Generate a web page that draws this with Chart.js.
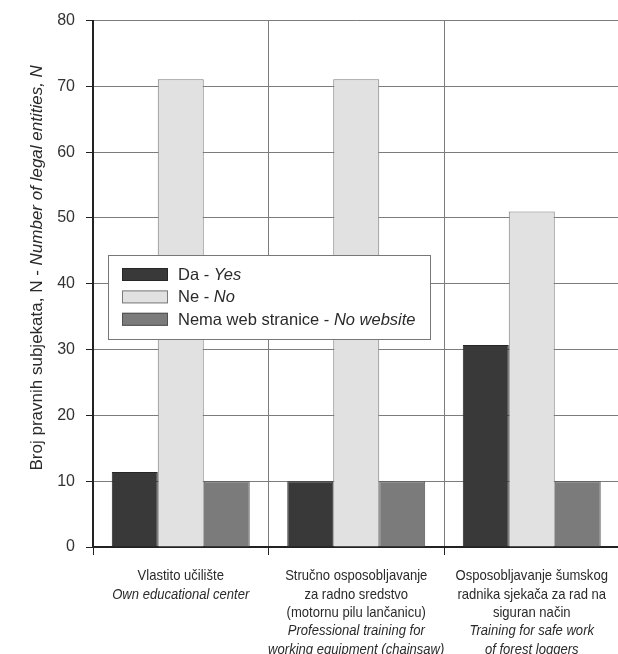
<!DOCTYPE html>
<html>
<head>
<meta charset="utf-8">
<script src="https://cdn.jsdelivr.net/npm/chart.js@4.4.1/dist/chart.umd.min.js"></script>
<style>
html,body{margin:0;padding:0;background:#fff;overflow:hidden;}
canvas{display:block;}
</style>
</head>
<body>
<canvas id="c" width="621" height="654" style="width:621px;height:654px"></canvas>
<script>
// ---- data ----
const categories = ["Vlastito učilište", "Stručno osposobljavanje", "Osposobljavanje šumskog"];
const catLinesHr = [
  ["Vlastito učilište"],
  ["Stručno osposobljavanje", "za radno sredstvo", "(motornu pilu lančanicu)"],
  ["Osposobljavanje šumskog", "radnika sjekača za rad na", "siguran način"]
];
const catLinesEn = [
  ["Own educational center"],
  ["Professional training for", "working equipment (chainsaw)"],
  ["Training for safe work", "of forest loggers"]
];
const seriesHr = ["Da - ", "Ne - ", "Nema web stranice - "];
const seriesEn = ["Yes", "No", "No website"];
const valuesDa = [11.4, 10, 30.7];
const valuesNe = [71.1, 71.1, 51.0];
const valuesNema = [10, 10, 10];
const yTicks = [0, 10, 20, 30, 40, 50, 60, 70, 80];
const yTitleHr = "Broj pravnih subjekata, N - ";
const yTitleEn = "Number of legal entities, N";

const FONT = "'Liberation Sans', Arial, sans-serif";
const fills = ["#393939", "#e1e1e1", "#7b7b7b"];
const borders = ["#262626", "#7a7a7a", "#505050"];

function drawMixed(ctx, x, y, parts, size, align) {
  let widths = parts.map(p => { ctx.font = (p[1] ? "italic " : "") + size + "px " + FONT; return ctx.measureText(p[0]).width; });
  let total = widths.reduce((a, b) => a + b, 0);
  let cx = align === "center" ? x - total / 2 : x;
  parts.forEach((p, i) => {
    ctx.font = (p[1] ? "italic " : "") + size + "px " + FONT;
    ctx.textAlign = "left";
    ctx.fillText(p[0], cx, y);
    cx += widths[i];
  });
}

const decor = {
  id: "decor",
  afterDraw(chart) {
    const ctx = chart.ctx;
    const xs = chart.scales.x;
    const ys = chart.scales.y;
    ctx.save();
    ctx.fillStyle = "#2a2a2a";
    ctx.textBaseline = "middle";
    categories.forEach((c, i) => {
      const cx = xs.getPixelForValue(i);
      const lines = catLinesHr[i].map(t => [t, false]).concat(catLinesEn[i].map(t => [t, true]));
      lines.forEach((ln, j) => {
        const y = ys.bottom + 29 + j * 18.4;
        ctx.save();
        ctx.translate(cx, y);
        ctx.scale(0.87, 1);
        ctx.font = (ln[1] ? "italic " : "") + "15px " + FONT;
        ctx.textAlign = "center";
        ctx.fillText(ln[0], 0, 0);
        ctx.restore();
      });
    });
    ctx.save();
    ctx.translate(37, (ys.top + ys.bottom) / 2 - 16);
    ctx.rotate(-Math.PI / 2);
    drawMixed(ctx, 0, 0, [[yTitleHr, false], [yTitleEn, true]], 17, "center");
    ctx.restore();
    const lx = 108, ly = 255, lw = 322, lh = 84;
    ctx.fillStyle = "#fff";
    ctx.fillRect(lx, ly, lw, lh);
    ctx.strokeStyle = "#777";
    ctx.lineWidth = 1;
    ctx.strokeRect(lx + 0.5, ly + 0.5, lw, lh);
    chart.data.datasets.forEach((ds, i) => {
      const cy = 274.5 + i * 22.4;
      ctx.fillStyle = ds.backgroundColor;
      ctx.fillRect(122, cy - 6.5, 46, 13);
      ctx.strokeStyle = ds.borderColor;
      ctx.strokeRect(122.5, cy - 6, 45, 12);
      ctx.fillStyle = "#2a2a2a";
      drawMixed(ctx, 178, cy + 1, [[seriesHr[i], false], [seriesEn[i], true]], 16.5, "left");
    });
    ctx.restore();
  }
};

const mk = (i, data) => ({
  label: seriesHr[i] + seriesEn[i],
  data: data,
  backgroundColor: fills[i],
  borderColor: borders[i],
  borderWidth: 1,
  categoryPercentage: 0.786,
  barPercentage: 1.0
});

new Chart(document.getElementById("c"), {
  type: "bar",
  data: {
    labels: categories,
    datasets: [mk(0, valuesDa), mk(1, valuesNe), mk(2, valuesNema)]
  },
  options: {
    responsive: false,
    animation: false,
    devicePixelRatio: 1,
    layout: { padding: { top: 20, right: 1.5, left: 0, bottom: 0 } },
    plugins: { legend: { display: false }, tooltip: { enabled: false }, title: { display: false } },
    scales: {
      x: {
        afterFit: (s) => { s.height = 107; },
        grid: { offset: true, color: "#7c7c7c", lineWidth: 1, tickColor: "#222", tickLength: 8, drawTicks: true },
        border: { color: "#222", width: 2 },
        ticks: { callback: () => "", font: { size: 1 } }
      },
      y: {
        min: 0, max: 80,
        afterFit: (s) => { s.width = 93; },
        afterBuildTicks: (s) => { s.ticks = yTicks.map(v => ({ value: v })); },
        grid: { color: "#7c7c7c", lineWidth: 1, tickColor: "#222", tickLength: 7 },
        border: { color: "#222", width: 2 },
        ticks: { font: { size: 16, family: FONT }, color: "#333", padding: 11 }
      }
    }
  },
  plugins: [decor]
});
</script>
</body>
</html>
